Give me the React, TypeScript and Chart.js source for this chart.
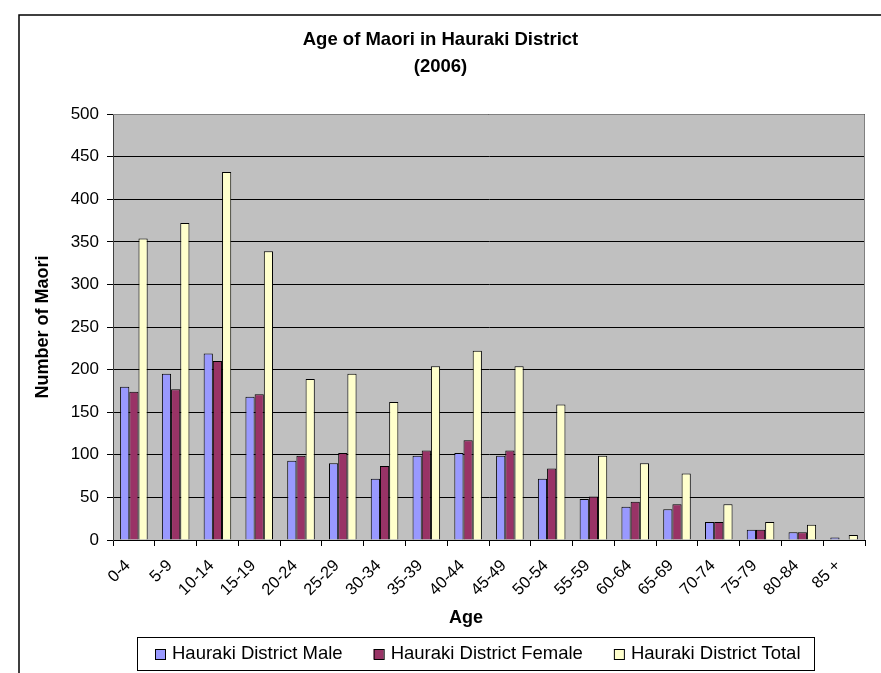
import React, { useEffect, useRef } from "react";
import { Chart, registerables } from "chart.js";

Chart.register(...registerables);

const categories = ["0-4", "5-9", "10-14", "15-19", "20-24", "25-29", "30-34", "35-39", "40-44", "45-49", "50-54", "55-59", "60-64", "65-69", "70-74", "75-79", "80-84", "85 +"];
const maleValues = [180, 195, 219, 168, 93, 90, 72, 99, 102, 99, 72, 48, 39, 36, 21, 12, 9, 3];
const femaleValues = [174, 177, 210, 171, 99, 102, 87, 105, 117, 105, 84, 51, 45, 42, 21, 12, 9, 0];
const totalValues = [354, 372, 432, 339, 189, 195, 162, 204, 222, 204, 159, 99, 90, 78, 42, 21, 18, 6];
const seriesLabels = ["Hauraki District Male", "Hauraki District Female", "Hauraki District Total"];
const seriesColors = ["#9999FF", "#993366", "#FFFFCC"];
const titleLines = ["Age of Maori in Hauraki District", "(2006)"];
const yAxisTitle = "Number of Maori";
const xAxisTitle = "Age";
const yMin = 0;
const yMax = 500;
const yStep = 50;

const FONT = "'Liberation Sans', Arial, sans-serif";

const decorPlugin = {
  id: "decor",
  beforeDraw(chart: any) {
    const { ctx, chartArea: a } = chart;
    ctx.save();
    ctx.fillStyle = "#ffffff";
    ctx.fillRect(0, 0, chart.width, chart.height);
    ctx.strokeStyle = "#000000";
    ctx.lineWidth = 1.5;
    ctx.strokeRect(19, 15, 3000, 3000);
    ctx.fillStyle = "#C0C0C0";
    ctx.fillRect(a.left, a.top, a.right - a.left, a.bottom - a.top);
    ctx.restore();
  },
  afterDraw(chart: any) {
    const { ctx, chartArea: a } = chart;
    ctx.save();
    // plot area border (top/right)
    ctx.strokeStyle = "#808080";
    ctx.lineWidth = 1;
    ctx.beginPath();
    ctx.moveTo(a.left, Math.round(a.top) + 0.5);
    ctx.lineTo(Math.round(a.right) - 0.5, Math.round(a.top) + 0.5);
    ctx.lineTo(Math.round(a.right) - 0.5, a.bottom);
    ctx.stroke();

    // x axis title
    ctx.fillStyle = "#000";
    ctx.font = `bold 18px ${FONT}`;
    ctx.textAlign = "center";
    ctx.textBaseline = "middle";
    ctx.fillText(xAxisTitle, 466, 618);

    // legend
    const lx = 137, ly = 637, lw = 677, lh = 33;
    ctx.strokeStyle = "#000";
    ctx.lineWidth = 1;
    ctx.strokeRect(lx + 0.5, ly + 0.5, lw, lh);
    ctx.font = `18.5px ${FONT}`;
    ctx.textAlign = "left";
    const cy = ly + lh / 2 + 0.5;
    let x = 155;
    seriesLabels.forEach((label, i) => {
      ctx.fillStyle = seriesColors[i];
      ctx.fillRect(x, cy - 5, 10, 10);
      ctx.strokeStyle = "#000";
      ctx.strokeRect(x + 0.5, cy - 5 + 0.5, 10, 10);
      ctx.fillStyle = "#000";
      ctx.fillText(label, x + 17, cy);
      x += 17 + ctx.measureText(label).width + 31;
    });
    ctx.restore();
  },
};

export default function App() {
  const ref = useRef<HTMLCanvasElement | null>(null);

  useEffect(() => {
    document.body.style.margin = "0";
    document.body.style.overflow = "hidden";
    const canvas = ref.current;
    if (!canvas) return;
    const chart = new Chart(canvas, {
      type: "bar",
      data: {
        labels: categories,
        datasets: [maleValues, femaleValues, totalValues].map((vals, i) => ({
          label: seriesLabels[i],
          data: vals,
          backgroundColor: seriesColors[i],
          borderColor: "#000000",
          borderWidth: 1,
          categoryPercentage: 0.66,
          barPercentage: 1,
        })),
      },
      options: {
        responsive: false,
        animation: false,
        devicePixelRatio: 1,
        layout: { padding: { left: 16, right: 16, top: 0, bottom: 0 } },
        plugins: {
          legend: { display: false },
          tooltip: { enabled: false },
          title: {
            display: true,
            text: titleLines,
            color: "#000",
            font: { family: FONT, size: 18.5, weight: "bold", lineHeight: 1.46 },
            padding: { top: 26.5, bottom: 33.5 },
          },
        },
        scales: {
          x: {
            grid: { display: true, drawOnChartArea: false, drawTicks: true, tickLength: 6, color: "#000", offset: true },
            border: { display: true, color: "#000", width: 1 },
            ticks: {
              color: "#000",
              font: { family: FONT, size: 16.5 },
              maxRotation: 45,
              minRotation: 45,
              autoSkip: false,
              padding: 10,
              labelOffset: -6,
            },
            afterFit(s: any) {
              s.height = 133;
            },
          },
          y: {
            min: yMin,
            max: yMax,
            grid: { color: "#000", lineWidth: 1, drawTicks: true, tickLength: 6 },
            border: { display: true, color: "#404040", width: 1 },
            ticks: {
              stepSize: yStep,
              color: "#000",
              font: { family: FONT, size: 17 },
              padding: 8,
            },
            title: {
              display: true,
              text: yAxisTitle,
              color: "#000",
              font: { family: FONT, size: 18, weight: "bold", lineHeight: 1.2 },
              padding: { top: 16, bottom: 0 },
            },
            afterFit(s: any) {
              s.width = 97;
            },
          },
        },
      },
      plugins: [decorPlugin],
    });
    return () => chart.destroy();
  }, []);

  return <canvas ref={ref} width={881} height={673} style={{ display: "block", width: 881, height: 673 }} />;
}
